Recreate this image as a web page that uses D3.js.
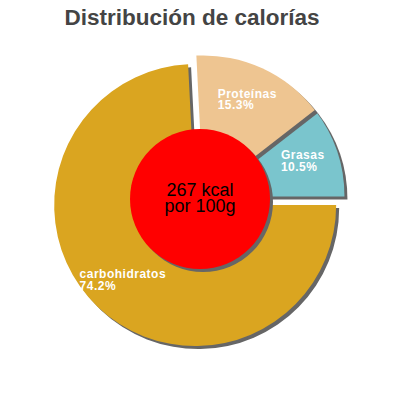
<!DOCTYPE html>
<html>
<head>
<meta charset="utf-8">
<script src="https://cdn.jsdelivr.net/npm/d3@7"></script>
<style>
  body { margin: 0; background: #fff; }
  text { font-family: "Liberation Sans", Arial, sans-serif; }
</style>
</head>
<body>
<div id="container"></div>
<script>
/* DATA */
const categories = ["carbohidratos", "Proteínas", "Grasas"];
const percents = [74.2, 15.3, 10.5];
const colors = ["#DAA520", "#EEC591", "#7AC5CD"];
const titleText = "Distribución de calorías";
const centerLines = ["267 kcal", "por 100g"];

/* CONSTANTS */
const width = 400;
const height = 400;
const cx = 200, cy = 200;
const radius = 141;
const shadow = 3;

const svg = d3.select("#container")
  .append("svg")
  .attr("width", width)
  .attr("height", height);

svg.append("text")
  .attr("x", 192)
  .attr("y", 25)
  .attr("text-anchor", "middle")
  .attr("font-size", "22.5px")
  .attr("font-weight", "bold")
  .attr("fill", "#444")
  .text(titleText);

const pie = d3.pie()
  .sort(null)
  .startAngle(Math.PI / 2)
  .endAngle(Math.PI / 2 + 2 * Math.PI);

const arcs = pie(percents).map((d, i) => ({ ...d, name: categories[i], color: colors[i] }));

const arc = d3.arc().innerRadius(0).outerRadius(radius);

// the big slice is pulled one way, the others the opposite way
const bigMid = (arcs[0].startAngle + arcs[0].endAngle) / 2;
function offset(i) {
  const a = i === 0 ? bigMid : bigMid + Math.PI;
  const k = i === 0 ? 7 : 5;
  return [k * Math.sin(a), -k * Math.cos(a)];
}

const g = svg.append("g").attr("transform", `translate(${cx},${cy})`);

const slices = g.selectAll(".slice")
  .data(arcs.map((d, i) => ({ d, i })).reverse())
  .join("g")
  .attr("class", "slice")
  .attr("transform", ({ i }) => `translate(${offset(i)})`);

slices.append("path")
  .attr("d", ({ d }) => arc(d))
  .attr("fill", "#666")
  .attr("transform", `translate(${shadow},${shadow})`);

slices.append("path")
  .attr("d", ({ d }) => arc(d))
  .attr("fill", ({ d }) => d.color);

// labels
const labels = slices.append("g")
  .attr("transform", ({ d }) => {
    const a = (d.startAngle + d.endAngle) / 2;
    const r = 105;
    return `translate(${r * Math.sin(a)},${-r * Math.cos(a)})`;
  });

labels.each(function ({ d }) {
  const lg = d3.select(this);
  const t1 = lg.append("text").attr("y", -3).text(d.name);
  const t2 = lg.append("text").attr("y", 8.5).text(d.data.toFixed(1) + "%");
  lg.selectAll("text")
    .attr("fill", "#fff")
    .attr("font-size", "12px")
    .attr("font-weight", "bold")
    .attr("letter-spacing", "0.5px");
  const w = Math.max(t1.node().getComputedTextLength(), t2.node().getComputedTextLength());
  lg.selectAll("text").attr("x", -w / 2);
});

// center disc
g.append("circle")
  .attr("cx", shadow)
  .attr("cy", -1 + shadow)
  .attr("r", 70)
  .attr("fill", "#666");

g.append("circle")
  .attr("cx", 0)
  .attr("cy", -1)
  .attr("r", 70)
  .attr("fill", "red");

g.selectAll(".center-text")
  .data(centerLines)
  .join("text")
  .attr("class", "center-text")
  .attr("x", 0)
  .attr("y", (d, i) => -4 + i * 16)
  .attr("text-anchor", "middle")
  .attr("font-size", "18px")
  .attr("fill", "#000")
  .text(d => d);
</script>
</body>
</html>
